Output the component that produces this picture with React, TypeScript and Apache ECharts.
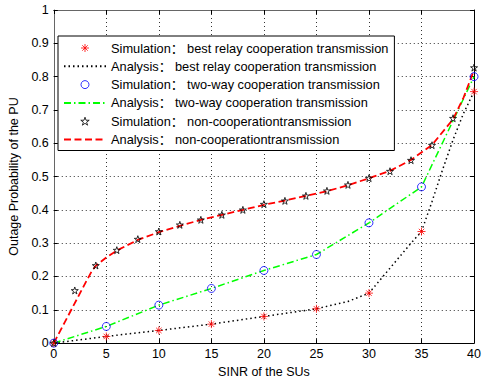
import React, { useEffect, useRef } from "react";
import * as echarts from "echarts";

// ---- data ----
const relaySimX = [0, 5, 10, 15, 20, 25, 30, 35, 40];
const relaySimY = [0, 0.02, 0.038, 0.057, 0.08, 0.103, 0.15, 0.335, 0.755];

const relayAnaX = [0, 5, 10, 15, 20, 25, 28, 30, 32, 34, 35, 36, 37, 38, 39, 40];
const relayAnaY = [0, 0.02, 0.038, 0.057, 0.08, 0.103, 0.125, 0.15, 0.225, 0.3, 0.335, 0.425, 0.52, 0.61, 0.69, 0.755];

const twoWaySimX = [0, 5, 10, 15, 20, 25, 30, 35, 40];
const twoWaySimY = [0, 0.05, 0.114, 0.164, 0.218, 0.266, 0.361, 0.469, 0.8];

const twoWayAnaX = [0, 5, 10, 15, 20, 25, 30, 35, 40];
const twoWayAnaY = [0, 0.05, 0.114, 0.164, 0.218, 0.266, 0.361, 0.469, 0.8];

const nonSimX = [0, 2, 4, 6, 8, 10, 12, 14, 16, 18, 20, 22, 24, 26, 28, 30, 32, 34, 36, 38, 40];
const nonSimY = [0, 0.158, 0.233, 0.279, 0.312, 0.335, 0.355, 0.37, 0.385, 0.4, 0.417, 0.427, 0.442, 0.457, 0.475, 0.495, 0.516, 0.549, 0.594, 0.675, 0.827];

const nonAnaX = [0, 1, 2, 3, 3.6, 4, 5, 6, 8, 10, 12, 14, 16, 18, 20, 22, 24, 26, 28, 30, 32, 34, 36, 38, 39, 40];
const nonAnaY = [0, 0.06, 0.12, 0.18, 0.215, 0.232, 0.257, 0.278, 0.31, 0.333, 0.352, 0.37, 0.385, 0.4, 0.415, 0.428, 0.442, 0.456, 0.474, 0.495, 0.517, 0.55, 0.595, 0.672, 0.737, 0.82];

const legendNames = [
  "Simulation： best relay cooperation transmission",
  "Analysis： best relay cooperation transmission",
  "Simulation： two-way cooperation transmission",
  "Analysis： two-way cooperation transmission",
  "Simulation： non-cooperationtransmission",
  "Analysis： non-cooperationtransmission",
];

const xAxisName = "SINR of the SUs";
const yAxisName = "Outage Probability of the PU";

const pairs = (xs: number[], ys: number[]) => xs.map((x, i) => [x, ys[i]]);

const ASTERISK = "path://M5 0L5 10M0 5L10 5M1.6 1.6L8.4 8.4M8.4 1.6L1.6 8.4";
const PENTAGRAM =
  "path://M5 0L6.18 3.62L10 3.62L6.91 5.88L8.09 9.51L5 7.27L1.91 9.51L3.09 5.88L0 3.62L3.82 3.62Z";

const FONT = "'Liberation Sans', Arial, 'Noto Sans CJK SC', sans-serif";

export default function App() {
  const ref = useRef<HTMLDivElement>(null);
  useEffect(() => {
    if (!ref.current) return;
    const chart = echarts.init(ref.current, undefined, { renderer: "svg" });
    const gridLine = { show: true, lineStyle: { color: "#333", type: [1, 3] as any, width: 1 } };
    const legendData = legendNames.map((name, i) =>
      i % 2 === 1
        ? { name, itemStyle: { opacity: 0 } }
        : { name, itemStyle: { color: "rgba(0,0,0,0)", borderWidth: 1 } }
    );
    chart.setOption({
      animation: false,
      backgroundColor: "#fff",
      textStyle: { fontFamily: FONT },
      grid: { left: 52, top: 10, width: 428, height: 335, show: false },
      legend: {
        orient: "vertical",
        left: 58,
        top: 36,
        padding: [5, 6, 4, 5],
        itemGap: 4.3,
        itemWidth: 42,
        itemHeight: 8,
        backgroundColor: "#fff",
        borderColor: "#000",
        borderWidth: 1,
        borderRadius: 0,
        textStyle: { fontSize: 12.8, color: "#000", fontFamily: FONT, lineHeight: 14 },
        data: legendData,
        selectedMode: false,
      },
      xAxis: [
        {
          type: "value",
          min: 0,
          max: 40,
          interval: 5,
          name: xAxisName,
          nameLocation: "middle",
          nameGap: 20,
          nameTextStyle: { fontSize: 12.5, color: "#000", fontFamily: FONT },
          axisLine: { show: true, lineStyle: { color: "#000", width: 1 } },
          axisTick: { show: true, inside: true, length: 4, lineStyle: { color: "#000" } },
          axisLabel: { fontSize: 12.5, color: "#000", margin: 5, fontFamily: FONT },
          splitLine: gridLine,
        },
        {
          type: "value",
          position: "top",
          min: 0,
          max: 40,
          interval: 5,
          axisLine: { show: true, onZero: false, lineStyle: { color: "#666", width: 1 } },
          axisTick: { show: true, inside: true, length: 4, lineStyle: { color: "#000" } },
          axisLabel: { show: false },
          splitLine: { show: false },
        },
      ],
      yAxis: [
        {
          type: "value",
          min: 0,
          max: 1,
          interval: 0.1,
          name: yAxisName,
          nameLocation: "middle",
          nameGap: 28,
          nameTextStyle: { fontSize: 12.5, color: "#000", fontFamily: FONT },
          axisLine: { show: true, lineStyle: { color: "#666", width: 1 } },
          axisTick: { show: true, inside: true, length: 4, lineStyle: { color: "#000" } },
          axisLabel: {
            fontSize: 12.5,
            color: "#000",
            margin: 5,
            fontFamily: FONT,
            formatter: (v: number) => String(Math.round(v * 10) / 10),
          },
          splitLine: gridLine,
        },
        {
          type: "value",
          position: "right",
          min: 0,
          max: 1,
          interval: 0.1,
          axisLine: { show: true, onZero: false, lineStyle: { color: "#000", width: 1 } },
          axisTick: { show: true, inside: true, length: 4, lineStyle: { color: "#000" } },
          axisLabel: { show: false },
          splitLine: { show: false },
        },
      ],
      series: [
        {
          name: legendNames[1],
          type: "line",
          data: pairs(relayAnaX, relayAnaY),
          symbol: "none",
          lineStyle: { color: "#000", width: 1.5, type: [1.5, 3] },
          itemStyle: { color: "#000" },
          z: 2,
        },
        {
          name: legendNames[3],
          type: "line",
          data: pairs(twoWayAnaX, twoWayAnaY),
          symbol: "none",
          lineStyle: { color: "#00ff00", width: 1.5, type: [7, 3, 1.5, 3] },
          itemStyle: { color: "#00ff00" },
          z: 2,
        },
        {
          name: legendNames[5],
          type: "line",
          data: pairs(nonAnaX, nonAnaY),
          symbol: "none",
          lineStyle: { color: "#ff0000", width: 1.8, type: [7, 3.5] },
          itemStyle: { color: "#ff0000" },
          z: 2,
        },
        {
          name: legendNames[0],
          type: "scatter",
          data: pairs(relaySimX, relaySimY),
          symbol: ASTERISK,
          symbolSize: 8,
          itemStyle: { color: "rgba(0,0,0,0)", borderColor: "#ff0000", borderWidth: 1 },
          z: 3,
        },
        {
          name: legendNames[2],
          type: "scatter",
          data: pairs(twoWaySimX, twoWaySimY),
          symbol: "circle",
          symbolSize: 8,
          itemStyle: { color: "rgba(0,0,0,0)", borderColor: "#0000ff", borderWidth: 1 },
          z: 3,
        },
        {
          name: legendNames[4],
          type: "scatter",
          data: pairs(nonSimX, nonSimY),
          symbol: PENTAGRAM,
          symbolSize: 7,
          itemStyle: { color: "rgba(0,0,0,0)", borderColor: "#000", borderWidth: 1 },
          z: 3,
        },
      ],
    });
    return () => chart.dispose();
  }, []);
  return <div ref={ref} style={{ width: 484, height: 383, position: "absolute", left: 0, top: 0 }} />;
}
